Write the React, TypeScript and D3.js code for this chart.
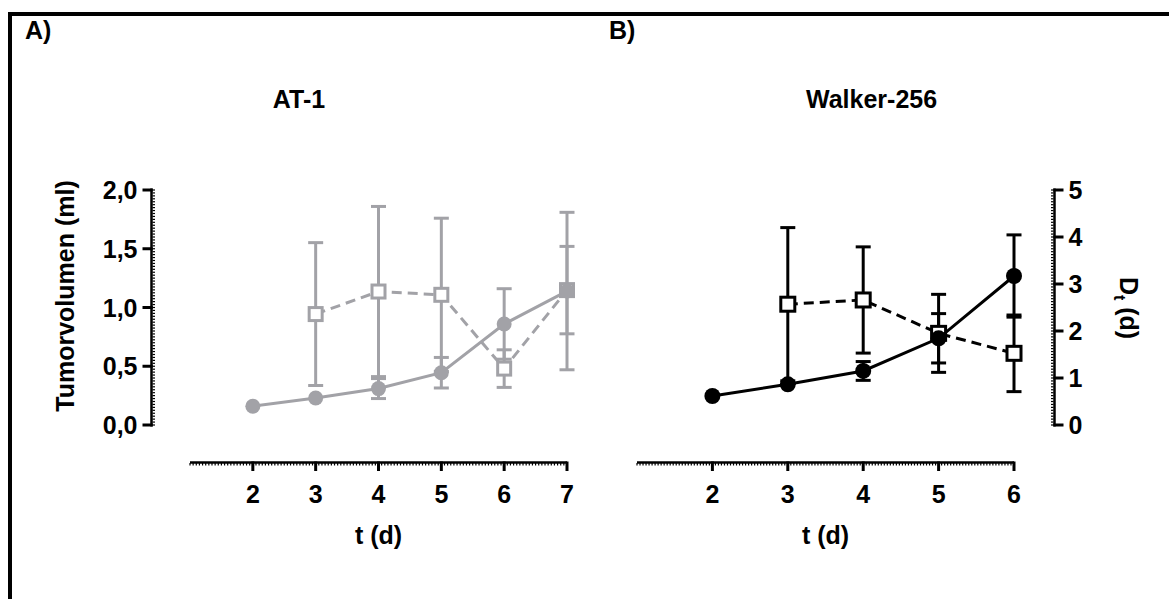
import * as d3 from "d3";

const FONT = "'Liberation Sans', Arial, Helvetica, sans-serif";
const GRAY = "#a2a2a7";

// AT-1: tumour volume (ml) and doubling time (d)
const daysAT1 = [2, 3, 4, 5, 6, 7];
const volAT1 = [0.16, 0.23, 0.31, 0.445, 0.86, 1.14];
const volErrAT1 = [0, 0, 0.085, 0.13, 0.3, 0.67];
const dtDaysAT1 = [3, 4, 5, 6, 7];
const dtAT1 = [2.36, 2.84, 2.77, 1.2, 2.87];
const dtErrAT1 = [1.52, 1.81, 1.63, 0.4, 0.93];

// Walker-256
const daysW = [2, 3, 4, 5, 6];
const volW = [0.247, 0.346, 0.46, 0.738, 1.268];
const volErrW = [0, 0, 0.08, 0.21, 0.35];
const dtDaysW = [3, 4, 5, 6];
const dtW = [2.57, 2.66, 1.95, 1.525];
const dtErrW = [1.63, 1.13, 0.83, 0.815];

const volTicks = [0, 0.5, 1, 1.5, 2];
const dtTicks = [0, 1, 2, 3, 4, 5];
const xTicksAT1 = [2, 3, 4, 5, 6, 7];
const xTicksW = [2, 3, 4, 5, 6];

const W = 1169;
const H = 599;
const top = 190;
const bottom = 425;
const xAxisY = 463;

const yVol = d3.scaleLinear().domain([0, 2]).range([bottom, top]);
const yDt = d3.scaleLinear().domain([0, 5]).range([bottom, top]);
const xA = d3.scaleLinear().domain([1, 7]).range([190, 567]);
const xB = d3.scaleLinear().domain([1, 6]).range([637, 1014]);

const comma = (v: number) => d3.format(".1f")(v).replace(".", ",");

function Label({ x, y, children, anchor = "middle", size = 25, rotate = 0, dy = 0 }: any) {
  return (
    <text
      transform={`translate(${x},${y}) rotate(${rotate})`}
      textAnchor={anchor}
      dy={dy}
      fontFamily={FONT}
      fontWeight="bold"
      fontSize={size}
      fill="#000"
    >
      {children}
    </text>
  );
}

function XAxis({ x, ticks, step }: any) {
  const [d0, d1] = x.domain();
  const minor = d3.range(d0, d1 + 1e-6, step);
  return (
    <g>
      <line x1={x(d0)} x2={x(d1)} y1={xAxisY - 0.5} y2={xAxisY - 0.5} stroke="#000" strokeWidth={2.5} />
      {minor.map((m: number, i: number) => (
        <line key={i} x1={x(m)} x2={x(m)} y1={xAxisY} y2={xAxisY + 2.5} stroke="#000" strokeWidth={1.2} />
      ))}
      {ticks.map((t: number) => (
        <g key={t}>
          <line x1={x(t)} x2={x(t)} y1={xAxisY - 1.5} y2={xAxisY + 8} stroke="#000" strokeWidth={3} />
          <Label x={x(t)} y={503}>{t}</Label>
        </g>
      ))}
      <Label x={(x(d0) + x(d1)) / 2} y={544}>t (d)</Label>
    </g>
  );
}

function YAxis({ y, ticks, ax, side, step, fmt }: any) {
  const [d0, d1] = y.domain();
  const minor = d3.range(d0, d1 + 1e-6, step);
  const dir = side === "left" ? -1 : 1;
  return (
    <g>
      <line x1={ax} x2={ax} y1={y(d0) + 1.5} y2={y(d1) - 1.5} stroke="#000" strokeWidth={2.5} />
      {minor.map((m: number, i: number) => (
        <line key={i} x1={ax - dir * 1} x2={ax - dir * 3.5} y1={y(m)} y2={y(m)} stroke="#000" strokeWidth={1.2} />
      ))}
      {ticks.map((t: number) => (
        <g key={t}>
          <line x1={ax - dir * 1.2} x2={ax + dir * 9} y1={y(t)} y2={y(t)} stroke="#000" strokeWidth={3} />
          <Label
            x={ax + dir * 14}
            y={y(t)}
            dy="0.36em"
            anchor={side === "left" ? "end" : "start"}
          >
            {fmt(t)}
          </Label>
        </g>
      ))}
    </g>
  );
}

function ErrorBars({ x, y, days, vals, errs, color }: any) {
  return (
    <g stroke={color} strokeWidth={3}>
      {vals.map((v: number, i: number) => {
        const e = errs[i];
        if (!e) return null;
        const cx = x(days[i]);
        const y1 = y(v + e);
        const y2 = y(v - e);
        return (
          <g key={i}>
            <line x1={cx} x2={cx} y1={y1} y2={y2} />
            <line x1={cx - 7.5} x2={cx + 7.5} y1={y1} y2={y1} />
            <line x1={cx - 7.5} x2={cx + 7.5} y1={y2} y2={y2} />
          </g>
        );
      })}
    </g>
  );
}

function Series({ x, y, days, vals, color, kind, r }: any) {
  const line = d3
    .line<number>()
    .x((_, i) => x(days[i]))
    .y((v) => y(v));
  return (
    <g>
      <path
        d={line(vals) || ""}
        fill="none"
        stroke={color}
        strokeWidth={3}
        strokeDasharray={kind === "square" ? "10,6" : undefined}
      />
      {vals.map((v: number, i: number) =>
        kind === "square" ? (
          <rect
            key={i}
            x={x(days[i]) - r}
            y={y(v) - r}
            width={2 * r}
            height={2 * r}
            fill="#fff"
            stroke={color}
            strokeWidth={3}
          />
        ) : (
          <circle key={i} cx={x(days[i])} cy={y(v)} r={r} fill={color} />
        )
      )}
    </g>
  );
}

export default function App() {
  return (
    <svg
      width={W}
      height={H}
      style={{ position: "absolute", left: 0, top: 0, background: "#fff" }}
    >
      <rect x={0} y={0} width={W} height={H} fill="#fff" />
      <path d={`M10,${H + 2} V14 H${W + 2}`} fill="none" stroke="#000" strokeWidth={4} />

      <Label x={25} y={39} anchor="start">A)</Label>
      <Label x={609} y={39} anchor="start">B)</Label>

      {/* Panel A */}
      <Label x={299} y={108}>AT-1</Label>
      <Label x={74} y={296} rotate={-90}>Tumorvolumen (ml)</Label>
      <YAxis y={yVol} ticks={volTicks} ax={151.5} side="left" step={0.025} fmt={comma} />
      <XAxis x={xA} ticks={xTicksAT1} step={0.05} />
      <ErrorBars x={xA} y={yDt} days={dtDaysAT1} vals={dtAT1} errs={dtErrAT1} color={GRAY} />
      <ErrorBars x={xA} y={yVol} days={daysAT1} vals={volAT1} errs={volErrAT1} color={GRAY} />
      <Series x={xA} y={yDt} days={dtDaysAT1} vals={dtAT1} color={GRAY} kind="square" r={6.5} />
      <Series x={xA} y={yVol} days={daysAT1} vals={volAT1} color={GRAY} kind="circle" r={7.5} />

      {/* Panel B */}
      <Label x={806} y={108} anchor="start">Walker-256</Label>
      <YAxis y={yDt} ticks={dtTicks} ax={1054.5} side="right" step={1 / 16} fmt={(t: number) => String(t)} />
      <text
        transform="translate(1120,308) rotate(90)"
        textAnchor="middle"
        fontFamily={FONT}
        fontWeight="bold"
        fontSize={25}
      >
        D<tspan fontSize={16} dy={6}>t</tspan>
        <tspan dy={-6}> (d)</tspan>
      </text>
      <XAxis x={xB} ticks={xTicksW} step={0.04} />
      <ErrorBars x={xB} y={yDt} days={dtDaysW} vals={dtW} errs={dtErrW} color="#000" />
      <ErrorBars x={xB} y={yVol} days={daysW} vals={volW} errs={volErrW} color="#000" />
      <Series x={xB} y={yDt} days={dtDaysW} vals={dtW} color="#000" kind="square" r={7} />
      <Series x={xB} y={yVol} days={daysW} vals={volW} color="#000" kind="circle" r={8} />
    </svg>
  );
}
